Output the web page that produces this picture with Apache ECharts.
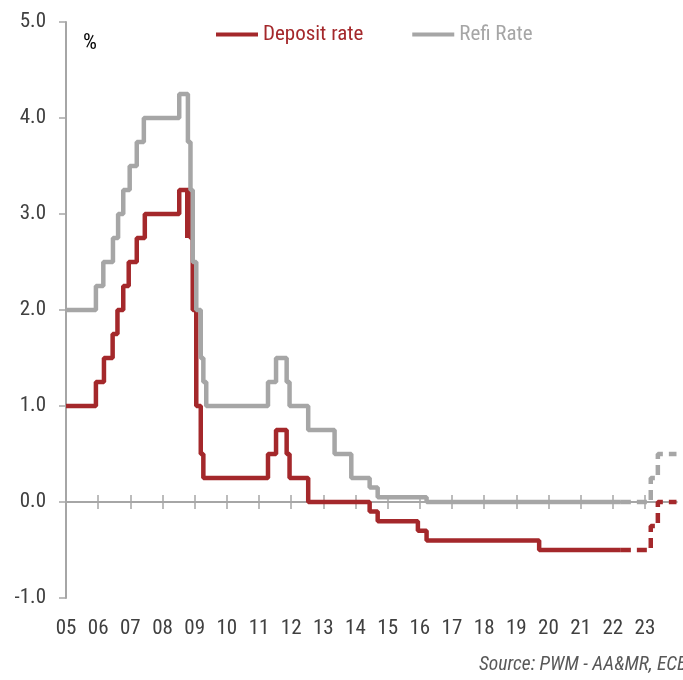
<!DOCTYPE html>
<html><head><meta charset="utf-8">
<script src="https://cdn.jsdelivr.net/npm/echarts@6/dist/echarts.min.js"></script>
<style>html,body{margin:0;padding:0;background:#fff}#c{width:683px;height:680px}</style>
</head><body><div id="c"></div>
<script>
const yearLabels = ['05','06','07','08','09','10','11','12','13','14','15','16','17','18','19','20','21','22','23'];
const tickYears = [2005,2006,2007,2008,2009,2010,2011,2012,2013,2014,2015,2016,2017,2018,2019,2020,2021,2022,2023];

const depositDates  = [2005.00, 2005.93, 2006.18, 2006.45, 2006.60, 2006.78, 2006.95, 2007.20, 2007.45, 2008.52, 2008.77, 2008.775, 2008.87, 2008.94, 2009.05, 2009.19, 2009.27, 2011.28, 2011.53, 2011.86, 2011.95, 2012.53, 2014.44, 2014.69, 2015.94, 2016.21, 2019.71, 2022.25];
const depositValues = [1.00, 1.25, 1.50, 1.75, 2.00, 2.25, 2.50, 2.75, 3.00, 3.25, 2.75, 3.25, 2.75, 2.00, 1.00, 0.50, 0.25, 0.50, 0.75, 0.50, 0.25, 0.00, -0.10, -0.20, -0.30, -0.40, -0.50, -0.50];

const refiDates  = [2005.00, 2005.93, 2006.16, 2006.46, 2006.62, 2006.78, 2006.98, 2007.20, 2007.42, 2008.52, 2008.79, 2008.87, 2008.94, 2009.05, 2009.19, 2009.27, 2009.36, 2011.28, 2011.53, 2011.86, 2011.95, 2012.53, 2013.35, 2013.87, 2014.44, 2014.69, 2016.21, 2022.25];
const refiValues = [2.00, 2.25, 2.50, 2.75, 3.00, 3.25, 3.50, 3.75, 4.00, 4.25, 3.75, 3.25, 2.50, 2.00, 1.50, 1.25, 1.00, 1.25, 1.50, 1.25, 1.00, 0.75, 0.50, 0.25, 0.15, 0.05, 0.00, 0.00];

const depositForecastDates  = [2022.25, 2023.18, 2023.40, 2023.98];
const depositForecastValues = [-0.50, -0.25, 0.00, 0.00];
const refiForecastDates  = [2022.25, 2023.18, 2023.40, 2023.98];
const refiForecastValues = [0.00, 0.25, 0.50, 0.50];

const RED = '#A4282B';
const GREY = '#A6A6A6';
const AXIS = '#A6A6A6';
const FONT = "'Liberation Sans Narrow', 'Roboto Condensed', 'DejaVu Sans Condensed', sans-serif";

const zip = (xs, ys) => xs.map((x, i) => [x, ys[i]]);

const xCommon = { type: 'value', min: 2005, max: 2023.98, interval: 1, splitLine: { show: false }, position: 'bottom' };

const chart = echarts.init(document.getElementById('c'), null, { renderer: 'canvas' });
chart.setOption({
  animation: false,
  backgroundColor: '#fff',
  grid: { left: 66, right: 6.5, top: 22, bottom: 82, containLabel: false },
  legend: {
    left: 216, top: 24, padding: 0, icon: 'rect', itemWidth: 42, itemHeight: 4, itemGap: 49,
    textStyle: { fontSize: 21, fontFamily: FONT },
    data: [
      { name: 'Deposit rate', textStyle: { color: RED } },
      { name: 'Refi Rate', textStyle: { color: GREY } }
    ]
  },
  xAxis: [
    Object.assign({}, xCommon, {
      axisLine: { show: false, onZero: false },
      axisTick: { show: false },
      axisLabel: {
        customValues: tickYears,
        formatter: v => yearLabels[Math.round(v) - 2005] || '',
        fontSize: 21, color: '#404040', margin: 20, fontFamily: FONT
      }
    }),
    Object.assign({}, xCommon, {
      axisLine: { show: true, onZero: true, onZeroAxisIndex: 0, lineStyle: { color: AXIS, width: 2 } },
      axisTick: { show: true, customValues: tickYears, inside: false, length: 7, lineStyle: { color: AXIS, width: 1.5 } },
      axisLabel: { show: false }
    }),
    Object.assign({}, xCommon, {
      axisLine: { show: true, onZero: true, onZeroAxisIndex: 0, lineStyle: { color: AXIS, width: 2 } },
      axisTick: { show: true, customValues: tickYears, inside: true, length: 7, lineStyle: { color: AXIS, width: 1.5 } },
      axisLabel: { show: false }
    })
  ],
  yAxis: {
    type: 'value', min: -1, max: 5, interval: 1,
    axisLine: { show: true, onZero: false, lineStyle: { color: AXIS, width: 2 } },
    axisTick: { show: true, length: 7, lineStyle: { color: AXIS, width: 1.5 } },
    splitLine: { show: false },
    axisLabel: { formatter: v => v.toFixed(1), fontSize: 21, color: '#404040', margin: 20, fontFamily: FONT }
  },
  series: [
    { name: 'Deposit rate', type: 'line', step: 'end', xAxisIndex: 0, symbol: 'none', showSymbol: false,
      data: zip(depositDates, depositValues), lineStyle: { color: RED, width: 4.5 }, itemStyle: { color: RED } },
    { name: 'Refi Rate', type: 'line', step: 'end', xAxisIndex: 0, symbol: 'none', showSymbol: false,
      data: zip(refiDates, refiValues), lineStyle: { color: GREY, width: 4.5 }, itemStyle: { color: GREY } },
    { name: 'Deposit rate', type: 'line', step: 'end', xAxisIndex: 0, symbol: 'none', showSymbol: false,
      data: zip(depositForecastDates, depositForecastValues), lineStyle: { color: RED, width: 4.5, type: [10, 6] }, itemStyle: { color: RED } },
    { name: 'Refi Rate', type: 'line', step: 'end', xAxisIndex: 0, symbol: 'none', showSymbol: false,
      data: zip(refiForecastDates, refiForecastValues), lineStyle: { color: GREY, width: 4.5, type: [10, 6] }, itemStyle: { color: GREY } }
  ],
  graphic: [
    { type: 'text', x: 83, y: 43, style: { text: '%', fontSize: 22, fill: '#000', fontFamily: FONT, verticalAlign: 'middle' } },
    { type: 'text', x: 479, y: 665, style: { text: 'Source: PWM - AA&MR, ECB', fontSize: 19.5, fontStyle: 'italic', fill: '#595959', fontFamily: FONT, verticalAlign: 'middle' } }
  ]
});
</script>
</body></html>
